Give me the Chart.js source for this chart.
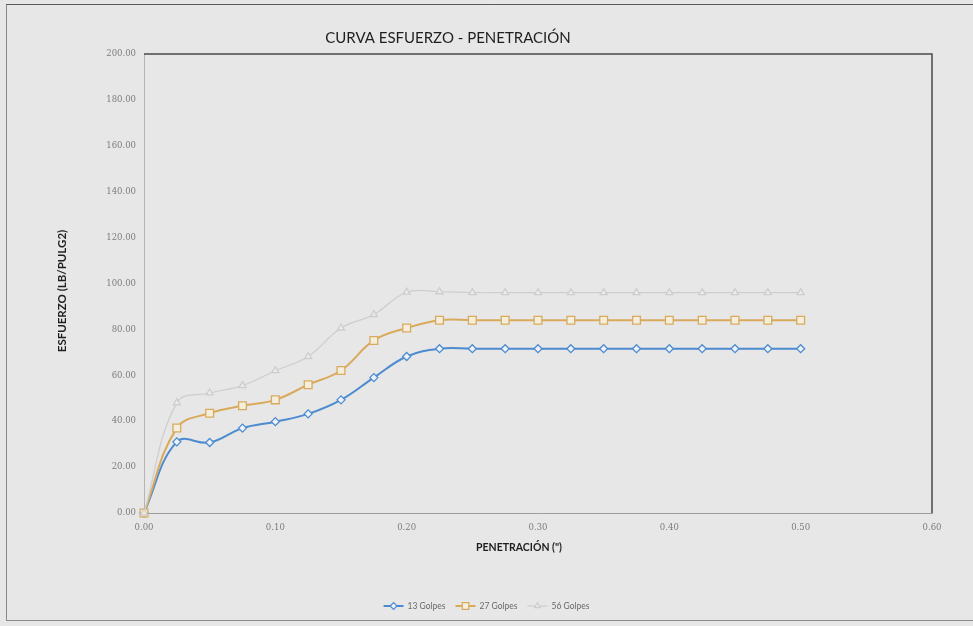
<!DOCTYPE html>
<html>
<head>
<meta charset="utf-8">
<script src="https://cdn.jsdelivr.net/npm/chart.js@4.4.1/dist/chart.umd.min.js"></script>
<style>
  html, body { margin: 0; padding: 0; background: #e7e7e7; }
  #wrap { width: 973px; height: 626px; position: relative; }
</style>
</head>
<body>
<div id="wrap"><canvas id="c" width="973" height="626"></canvas></div>
<script>
// Penetration readings (inches) and stress (lb/pulg2) for each compaction energy
const penetracion = [0.000, 0.025, 0.050, 0.075, 0.100, 0.125, 0.150, 0.175, 0.200, 0.225, 0.250,
                     0.275, 0.300, 0.325, 0.350, 0.375, 0.400, 0.425, 0.450, 0.475, 0.500];
const golpes13 = [0.0, 31.0, 30.7, 37.0, 39.8, 43.2, 49.3, 59.0, 68.2, 71.6, 71.6,
                  71.6, 71.6, 71.6, 71.6, 71.6, 71.6, 71.6, 71.6, 71.6, 71.6];
const golpes27 = [0.0, 37.0, 43.5, 46.7, 49.3, 55.9, 62.1, 75.2, 80.6, 84.0, 84.0,
                  84.0, 84.0, 84.0, 84.0, 84.0, 84.0, 84.0, 84.0, 84.0, 84.0];
const golpes56 = [0.0, 48.0, 52.3, 55.5, 62.0, 68.2, 80.6, 86.5, 96.2, 96.4, 96.0,
                  96.0, 96.0, 96.0, 96.0, 96.0, 96.0, 96.0, 96.0, 96.0, 96.0];
const seriesNames = ['13 Golpes', '27 Golpes', '56 Golpes'];

const xTickValues = [0.0, 0.1, 0.2, 0.3, 0.4, 0.5, 0.6];
const yTickValues = [0, 20, 40, 60, 80, 100, 120, 140, 160, 180, 200];

const chartTitle = 'CURVA ESFUERZO - PENETRACIÓN';
const xAxisTitle = 'PENETRACIÓN (")';
const yAxisTitle = 'ESFUERZO (LB/PULG2)';

const toPoints = (ys) => penetracion.map((x, i) => ({ x: x, y: ys[i] }));

const styles = [
  { line: '#4d8bd0', fill: '#eef3f9', point: 'rectRot', radius: 4,   width: 2 },
  { line: '#d9aa5c', fill: '#f4eedd', point: 'rect',    radius: 5.5, width: 2 },
  { line: '#cdcdcd', fill: '#ececec', point: 'triangle',radius: 4,   width: 1.2 }
];
const seriesData = [golpes13, golpes27, golpes56];

const datasets = seriesData.map((ys, i) => ({
  label: seriesNames[i],
  data: toPoints(ys),
  borderColor: styles[i].line,
  backgroundColor: styles[i].fill,
  borderWidth: styles[i].width,
  pointStyle: styles[i].point,
  pointRadius: styles[i].radius,
  pointBorderWidth: 1.3,
  pointBorderColor: styles[i].line,
  pointBackgroundColor: styles[i].fill,
  tension: 0.4,
  fill: false,
  clip: false,
  order: 3 - i
}));

// Page background, outer frame, plot border and all free text
const decorations = {
  id: 'decorations',
  beforeDraw(chart) {
    const ctx = chart.ctx;
    ctx.save();
    ctx.fillStyle = '#e7e7e7';
    ctx.fillRect(0, 0, chart.width, chart.height);
    ctx.strokeStyle = '#8a8a8a';
    ctx.lineWidth = 1;
    ctx.strokeRect(6.5, 4.5, chart.width + 10, 616);
    ctx.strokeStyle = '#5a5a5a';
    ctx.beginPath();
    ctx.moveTo(6, 4.5); ctx.lineTo(chart.width, 4.5);
    ctx.stroke();
    ctx.restore();
  },
  afterDraw(chart) {
    const ctx = chart.ctx;
    const a = chart.chartArea;
    ctx.save();
    // plot-area frame on top and right
    ctx.strokeStyle = '#4a4a4a';
    ctx.lineWidth = 1.5;
    ctx.beginPath();
    ctx.moveTo(a.left, a.top);
    ctx.lineTo(a.right, a.top);
    ctx.lineTo(a.right, a.bottom);
    ctx.stroke();

    // title
    ctx.fillStyle = '#1e1e1e';
    ctx.textAlign = 'center';
    ctx.textBaseline = 'middle';
    ctx.font = '15px Lato';
    ctx.fillText(chartTitle, 448, 38);

    // axis titles
    ctx.font = 'bold 10.5px Lato';
    ctx.fillText(xAxisTitle, 519, 548);
    ctx.save();
    ctx.translate(62, 291);
    ctx.rotate(-Math.PI / 2);
    ctx.font = 'bold 11.5px Lato';
    ctx.fillText(yAxisTitle, 0, 0);
    ctx.restore();

    // legend: line with marker, then series name
    ctx.font = '8.5px Lato';
    ctx.textAlign = 'left';
    const lineLen = 20, gapText = 4, gapItem = 10;
    const items = chart.data.datasets.map(ds => ({ ds, w: ctx.measureText(ds.label).width }));
    const total = items.reduce((s, it) => s + lineLen + gapText + it.w, 0) + gapItem * (items.length - 1);
    let x = chart.width / 2 - total / 2;
    const y = 606;
    items.forEach(it => {
      const ds = it.ds;
      ctx.strokeStyle = ds.borderColor;
      ctx.lineWidth = ds.borderWidth;
      ctx.beginPath();
      ctx.moveTo(x, y); ctx.lineTo(x + lineLen, y);
      ctx.stroke();
      ctx.fillStyle = ds.pointBackgroundColor;
      ctx.strokeStyle = ds.pointBorderColor;
      ctx.lineWidth = 1.2;
      Chart.helpers.drawPoint(ctx, { pointStyle: ds.pointStyle, radius: ds.pointRadius * 0.85, rotation: 0, borderWidth: 1.2 }, x + lineLen / 2, y);
      ctx.fillStyle = '#6a6a6a';
      ctx.fillText(ds.label, x + lineLen + gapText, y + 0.5);
      x += lineLen + gapText + it.w + gapItem;
    });
    ctx.restore();
  }
};

new Chart(document.getElementById('c'), {
  type: 'line',
  data: { datasets },
  options: {
    responsive: false,
    animation: false,
    devicePixelRatio: 1,
    layout: { padding: { top: 54, right: 41, bottom: 0, left: 0 } },
    plugins: { legend: { display: false }, title: { display: false }, tooltip: { enabled: false } },
    scales: {
      x: {
        type: 'linear',
        min: 0, max: 0.6,
        afterFit(s) { s.height = 113; },
        afterBuildTicks(s) { s.ticks = xTickValues.map(v => ({ value: v })); },
        grid: { display: false, drawTicks: false },
        border: { display: true, color: '#9c9c9c', width: 1, dash: [2, 2] },
        ticks: {
          padding: 10, autoSkip: false, maxRotation: 0,
          color: '#7c7c7c',
          font: { family: 'DejaVu Serif', size: 8.5 },
          callback: v => Number(v).toFixed(2)
        }
      },
      y: {
        min: 0, max: 200,
        afterFit(s) { s.width = 144; },
        afterBuildTicks(s) { s.ticks = yTickValues.map(v => ({ value: v })); },
        grid: { display: false, drawTicks: false },
        border: { display: true, color: '#b4b4b4', width: 1 },
        ticks: {
          padding: 8,
          color: '#7c7c7c',
          font: { family: 'DejaVu Serif', size: 8.5 },
          callback: v => Number(v).toFixed(2)
        }
      }
    }
  },
  plugins: [decorations]
});
</script>
</body>
</html>
